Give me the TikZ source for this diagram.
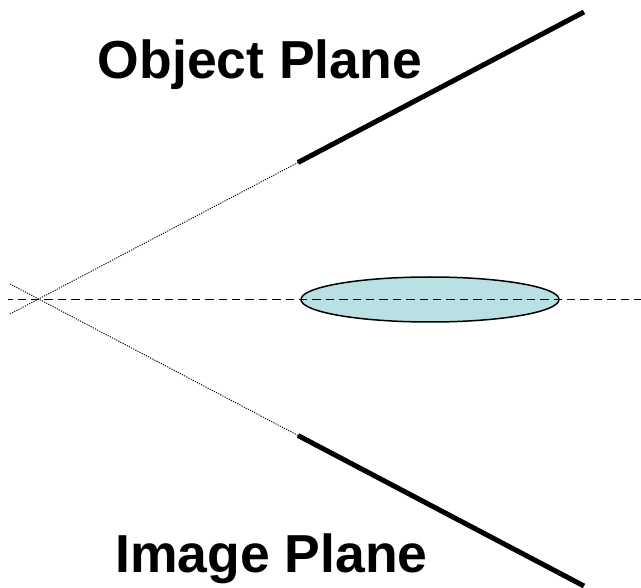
\documentclass[tikz,border=0pt]{standalone}
\usepackage{fontspec}
\setmainfont{Liberation Sans}
\usetikzlibrary{positioning,calc,shapes.geometric}
\definecolor{lens}{HTML}{B9E0E3}
\tikzset{
  plane/.style={line width=5pt,draw=black},
  guide/.style={dash pattern=on 1.2pt off 1.2pt,line width=0.9pt,draw=black},
  axis/.style={dash pattern=on 8.4pt off 5pt,dash phase=3.9pt,line width=1.5pt,draw=black},
  title/.style={font=\bfseries\fontsize{53.5}{56}\selectfont,inner sep=0pt,text=black}
}
\begin{document}
\begin{tikzpicture}[x=1pt,y=-1pt]
        \useasboundingbox (0,0) rectangle (641,588);
        \coordinate (obj1) at (298,162.5);
        \coordinate (obj2) at (584,12);
        \coordinate (img1) at (298,435.5);
        \coordinate (img2) at (584,586);
        \coordinate (objend) at (10,314);
        \coordinate (imgend) at (10,284);
        \coordinate (axisl) at (8,299.5);
        \coordinate (axisr) at (641,299.5);

        \node[draw=black,fill=lens,ellipse,line width=1.5pt,minimum width=258pt,minimum height=45pt,inner sep=0pt] (lens) at (430,299.5) {};
        \draw[axis] (axisl) -- (axisr);
        \draw[guide] (objend) -- (obj1);
        \draw[guide] (imgend) -- (img1);
        \draw[plane] (obj1) -- (obj2);
        \draw[plane] (img1) -- (img2);

        \node[title] (objlabel) at (260,65) {Object Plane};
        \node[title] (imglabel) at (271.5,559) {Image Plane};
      \end{tikzpicture}
\end{document}
